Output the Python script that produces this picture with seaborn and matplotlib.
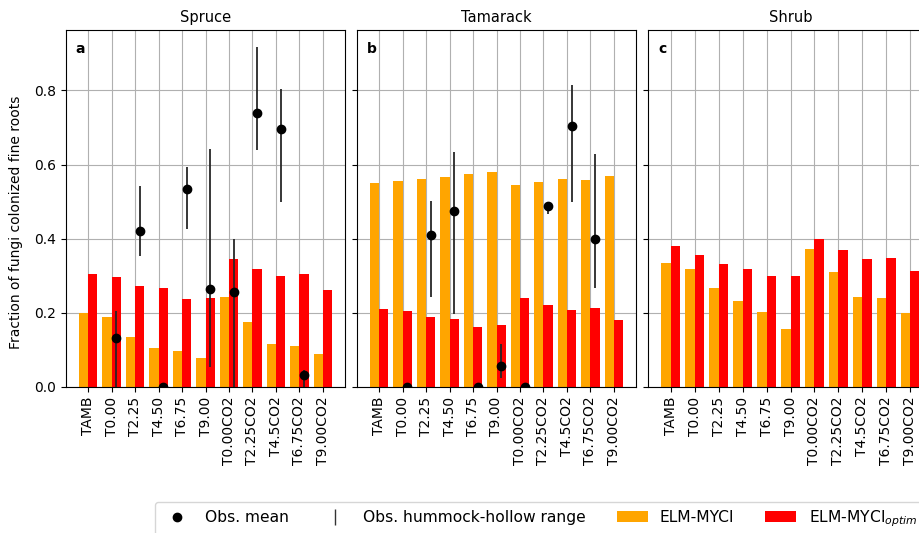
import numpy as np
import pandas as pd
import matplotlib
matplotlib.use("Agg")
import matplotlib.pyplot as plt
from matplotlib.lines import Line2D
from matplotlib.patches import Patch
import seaborn as sns

treatments = ["TAMB", "T0.00", "T2.25", "T4.50", "T6.75", "T9.00",
              "T0.00CO2", "T2.25CO2", "T4.5CO2", "T6.75CO2", "T9.00CO2"]
sites = ["Spruce", "Tamarack", "Shrub"]
panel_letters = ["a", "b", "c"]

# Modelled fraction of fungi-colonized fine roots
myci = {
    "Spruce":   [0.199, 0.189, 0.135, 0.105, 0.097, 0.079, 0.242, 0.176, 0.115, 0.110, 0.090],
    "Tamarack": [0.549, 0.555, 0.560, 0.567, 0.575, 0.580, 0.545, 0.552, 0.560, 0.558, 0.570],
    "Shrub":    [0.334, 0.318, 0.268, 0.231, 0.203, 0.156, 0.373, 0.309, 0.244, 0.241, 0.199],
}
myci_optim = {
    "Spruce":   [0.306, 0.296, 0.273, 0.266, 0.238, 0.240, 0.346, 0.317, 0.299, 0.306, 0.261],
    "Tamarack": [0.210, 0.206, 0.189, 0.183, 0.163, 0.166, 0.241, 0.221, 0.207, 0.214, 0.180],
    "Shrub":    [0.379, 0.356, 0.331, 0.318, 0.299, 0.299, 0.398, 0.369, 0.346, 0.348, 0.314],
}

# Observations: mean and hummock-hollow range (NaN = not observed)
nan = np.nan
obs_mean = {
    "Spruce":   [nan, 0.131, 0.420, 0.0, 0.533, 0.265, 0.255, 0.740, 0.695, 0.032, nan],
    "Tamarack": [nan, 0.0, 0.410, 0.476, 0.0, 0.056, 0.0, 0.489, 0.703, 0.399, nan],
    "Shrub":    [nan] * 11,
}
obs_low = {
    "Spruce":   [nan, 0.0, 0.353, 0.0, 0.427, 0.053, 0.0, 0.640, 0.499, 0.0, nan],
    "Tamarack": [nan, 0.0, 0.244, 0.196, 0.0, 0.023, 0.0, 0.467, 0.499, 0.266, nan],
    "Shrub":    [nan] * 11,
}
obs_high = {
    "Spruce":   [nan, 0.204, 0.541, 0.0, 0.594, 0.643, 0.398, 0.917, 0.804, 0.046, nan],
    "Tamarack": [nan, 0.0, 0.503, 0.634, 0.0, 0.116, 0.0, 0.489, 0.815, 0.629, nan],
    "Shrub":    [nan] * 11,
}

model_names = ["ELM-MYCI", "ELM-MYCI$_{optim}$"]
palette = {model_names[0]: "orange", model_names[1]: "red"}

rows = []
for s in sites:
    for t, v1, v2 in zip(treatments, myci[s], myci_optim[s]):
        rows.append({"site": s, "treatment": t, "model": model_names[0], "value": v1})
        rows.append({"site": s, "treatment": t, "model": model_names[1], "value": v2})
df = pd.DataFrame(rows)

plt.rcParams["font.family"] = ["DejaVu Sans"]
plt.rcParams["font.size"] = 10

fig = plt.figure(figsize=(9.19, 5.33), dpi=100)
W, H = 919.0, 533.0
lefts = [66, 357, 648]
widths = [279, 279, 285]
ax_bottom, ax_top = 387, 30

axes = []
for k, s in enumerate(sites):
    ax = fig.add_axes([lefts[k] / W, 1 - ax_bottom / H, widths[k] / W, (ax_bottom - ax_top) / H])
    axes.append(ax)
    sub = df[df["site"] == s]
    sns.barplot(data=sub, x="treatment", y="value", hue="model",
                order=treatments, hue_order=model_names, palette=palette,
                width=0.8, dodge=True, errorbar=None, legend=False,
                saturation=1, ax=ax)

    m = np.array(obs_mean[s], dtype=float)
    lo = np.array(obs_low[s], dtype=float)
    hi = np.array(obs_high[s], dtype=float)
    ok = ~np.isnan(m)
    if ok.any():
        xpos = np.arange(len(treatments))[ok] + 0.2
        ax.errorbar(xpos, m[ok], yerr=[m[ok] - lo[ok], hi[ok] - m[ok]],
                    fmt="o", color="black", ecolor="0.15", ms=6,
                    elinewidth=1.3, capsize=0, zorder=4)

    ax.set_xlim(-0.94, 10.94)
    ax.set_ylim(0, 0.963)
    ax.set_yticks([0.0, 0.2, 0.4, 0.6, 0.8])
    ax.set_xticks(range(len(treatments)))
    ax.set_xticklabels(treatments, rotation=90)
    ax.set_xlabel("")
    ax.set_ylabel("")
    ax.grid(True, color="#b0b0b0", linewidth=0.8)
    ax.set_axisbelow(True)
    ax.set_title(s, fontsize=10.5)
    ax.text(0.035, 0.965, panel_letters[k], transform=ax.transAxes,
            fontweight="bold", fontsize=10, ha="left", va="top")
    if k > 0:
        ax.tick_params(labelleft=False)
    for sp in ax.spines.values():
        sp.set_color("black")

axes[0].set_ylabel("Fraction of fungi colonized fine roots")
axes[0].yaxis.set_label_coords(-0.155, 0.46)

handles = [
    Line2D([], [], marker="o", color="black", linestyle="none", ms=6),
    Line2D([], [], marker="|", color="0.2", linestyle="none", ms=12, mew=1.0),
    Patch(facecolor="orange"),
    Patch(facecolor="red"),
]
labels = ["Obs. mean", "Obs. hummock-hollow range", "ELM-MYCI", "ELM-MYCI$_{optim}$"]
fig.legend(handles, labels, loc="upper left", ncol=4, fontsize=11.15,
           bbox_to_anchor=(155 / W, 1 - 502 / H), borderaxespad=0)

fig.savefig("out.png", dpi=100)
